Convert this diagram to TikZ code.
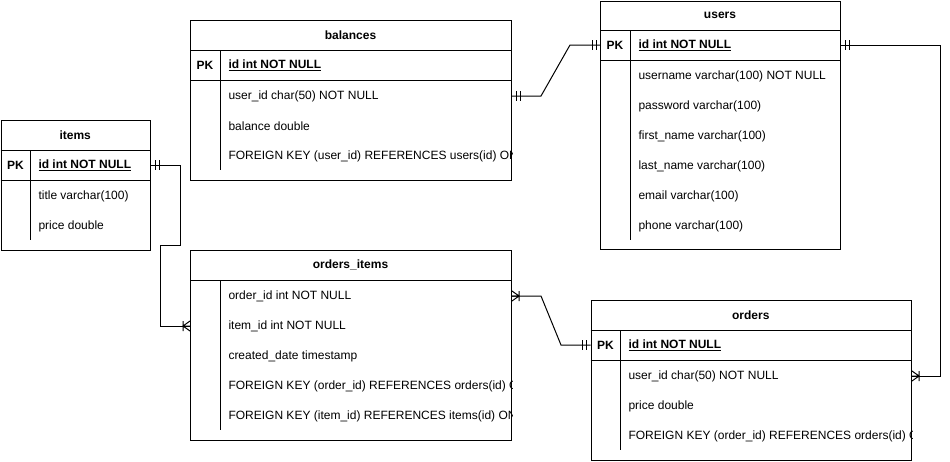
\documentclass[tikz,border=0pt]{standalone}
\usepackage{fontspec}
\setmainfont{Liberation Sans}
\begin{document}
\begin{tikzpicture}[x=1pt,y=-1pt,line width=1pt,
  font=\fontsize{12}{14}\selectfont,
  tbl/.style={draw, anchor=north west, inner sep=0pt, fill=white},
  ttl/.style={font=\fontsize{12}{14}\selectfont\bfseries, inner sep=0pt},
  row/.style={anchor=west, inner sep=0pt},
  pkl/.style={font=\fontsize{12}{14}\selectfont\bfseries, inner sep=0pt},
  conn/.style={draw, line width=1pt, line join=miter},
  moner/.pic={\draw (4,-5)--(4,5) (8,-5)--(8,5);},
  monel/.pic={\draw (-4,-5)--(-4,5) (-8,-5)--(-8,5);},
  manyr/.pic={\draw (0,-5)--(7,0)--(0,5) (0,0)--(7,0) (7,-5)--(7,5);},
  manyl/.pic={\draw (0,-5)--(-7,0)--(0,5) (0,0)--(-7,0) (-7,-5)--(-7,5);}
]
\useasboundingbox (0,0) rectangle (950,461);

% ---------- balances ----------
\node[tbl, minimum width=321pt, minimum height=160pt] (balances) at (190,20) {};
\node[ttl] (bal-title) at (350.5,35) {balances};
\draw (balances.west |- 0,50) -- (balances.east |- 0,50);
\draw (balances.west |- 0,80) -- (balances.east |- 0,80);
\draw (220,50) -- (220,170);
\node[pkl] (bal-pkl) at (205,65) {PK};
\begin{scope}
\clip (balances.north west) rectangle (balances.south east);
\node[row] (bal-pk) at (228,65) {\bfseries\underline{id int NOT NULL}};
\node[row] (bal-uid) at (228,96) {user\_id char(50) NOT NULL};
\node[row] (bal-bal) at (228,126) {balance double};
\node[row] (bal-fk) at (228,156) {FOREIGN KEY (user\_id) REFERENCES users(id) ON DELETE CASCADE};
\end{scope}

% ---------- users ----------
\node[tbl, minimum width=240pt, minimum height=248pt] (users) at (600,1) {};
\node[ttl] (usr-title) at (720,15.5) {users};
\draw (users.west |- 0,30) -- (users.east |- 0,30);
\draw (users.west |- 0,60) -- (users.east |- 0,60);
\draw (630,30) -- (630,240);
\node[pkl] (usr-pkl) at (615,45) {PK};
\node[row] (usr-pk) at (638,45) {\bfseries\underline{id int NOT NULL}};
\node[row] (usr-un) at (638,76) {username varchar(100) NOT NULL};
\node[row] (usr-pw) at (638,106) {password varchar(100)};
\node[row] (usr-fn) at (638,136) {first\_name varchar(100)};
\node[row] (usr-ln) at (638,166) {last\_name varchar(100)};
\node[row] (usr-em) at (638,196) {email varchar(100)};
\node[row] (usr-ph) at (638,226) {phone varchar(100)};

% ---------- items ----------
\node[tbl, minimum width=149.5pt, minimum height=130pt] (items) at (0.5,120) {};
\node[ttl] (itm-title) at (75.25,135) {items};
\draw (items.west |- 0,150) -- (items.east |- 0,150);
\draw (items.west |- 0,180) -- (items.east |- 0,180);
\draw (30.5,150) -- (30.5,240);
\node[pkl] (itm-pkl) at (15.5,165) {PK};
\node[row] (itm-pk) at (38,165) {\bfseries\underline{id int NOT NULL}};
\node[row] (itm-ti) at (38,196) {title varchar(100)};
\node[row] (itm-pr) at (38,226) {price double};

% ---------- orders_items ----------
\node[tbl, minimum width=321pt, minimum height=190pt] (oitems) at (190,250) {};
\node[ttl] (oi-title) at (350.5,265) {orders\_items};
\draw (oitems.west |- 0,280) -- (oitems.east |- 0,280);
\draw (220,280) -- (220,430);
\begin{scope}
\clip (oitems.north west) rectangle (oitems.south east);
\node[row] (oi-oid) at (228,296) {order\_id int NOT NULL};
\node[row] (oi-iid) at (228,326) {item\_id int NOT NULL};
\node[row] (oi-cd) at (228,356) {created\_date timestamp};
\node[row] (oi-fk1) at (228,386) {FOREIGN KEY (order\_id) REFERENCES orders(id) ON DELETE CASCADE};
\node[row] (oi-fk2) at (228,416) {FOREIGN KEY (item\_id) REFERENCES items(id) ON DELETE CASCADE};
\end{scope}

% ---------- orders ----------
\node[tbl, minimum width=320.5pt, minimum height=160pt] (orders) at (590.5,300) {};
\node[ttl] (ord-title) at (750.75,315) {orders};
\draw (orders.west |- 0,330) -- (orders.east |- 0,330);
\draw (orders.west |- 0,360) -- (orders.east |- 0,360);
\draw (620.5,330) -- (620.5,450);
\node[pkl] (ord-pkl) at (605.5,345) {PK};
\begin{scope}
\clip (orders.north west) rectangle (orders.south east);
\node[row] (ord-pk) at (628,345) {\bfseries\underline{id int NOT NULL}};
\node[row] (ord-uid) at (628,376) {user\_id char(50) NOT NULL};
\node[row] (ord-pr) at (628,406) {price double};
\node[row] (ord-fk) at (628,436) {FOREIGN KEY (order\_id) REFERENCES orders(id) ON DELETE CASCADE};
\end{scope}

% ---------- connectors ----------
% balances.user_id -> users.id
\draw[conn] (balances.east |- bal-uid) -- (541,96) -- (570,45) -- (users.west |- usr-pk);
\pic at (balances.east |- bal-uid) {moner};
\pic at (users.west |- usr-pk) {monel};

% items.id -> orders_items.item_id
\draw[conn] (items.east |- itm-pk) -- (180.5,165) -- (180.5,245) -- (160.5,245) -- (160.5,326) -- (oitems.west |- oi-iid);
\pic at (items.east |- itm-pk) {moner};
\pic at (oitems.west |- oi-iid) {manyl};

% orders_items.order_id -> orders.id
\draw[conn] (oitems.east |- oi-oid) -- (541,296) -- (561,345) -- (orders.west |- ord-pk);
\pic at (oitems.east |- oi-oid) {manyr};
\pic at (orders.west |- ord-pk) {monel};

% users.id -> orders.user_id
\draw[conn] (users.east |- usr-pk) -- (940.5,45) -- (940.5,376) -- (orders.east |- ord-uid);
\pic at (users.east |- usr-pk) {moner};
\pic at (orders.east |- ord-uid) {manyr};
\end{tikzpicture}
\end{document}
